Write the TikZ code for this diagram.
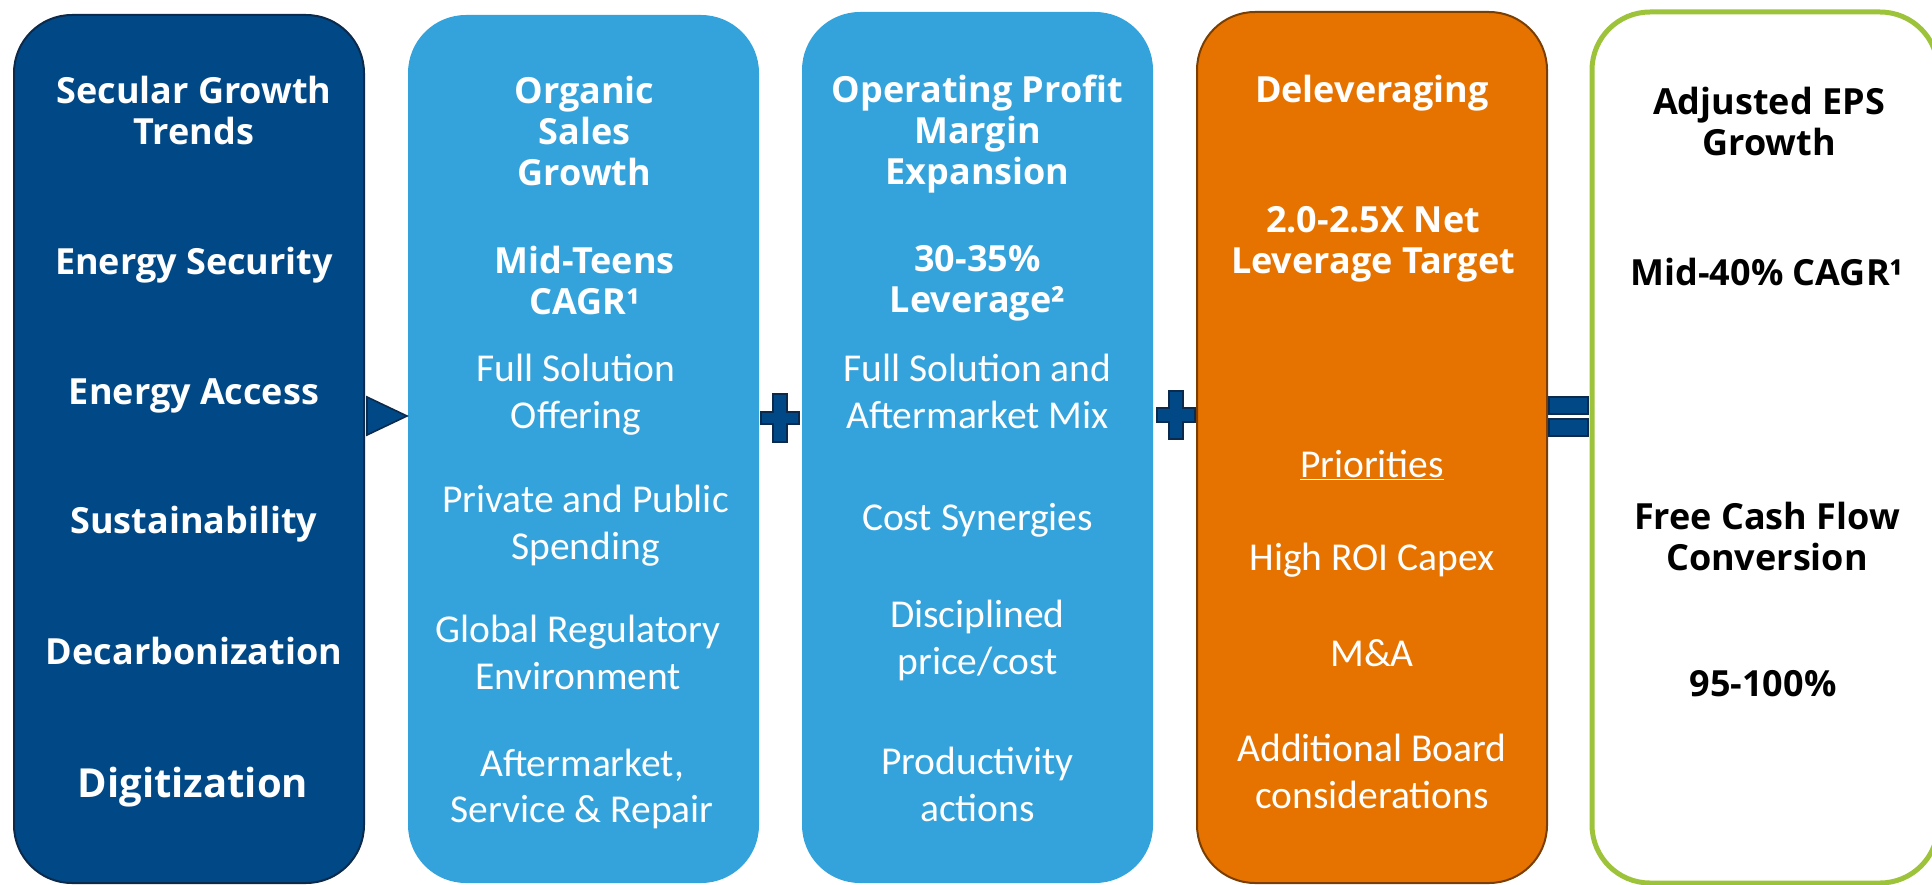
\documentclass[tikz,border=0pt]{standalone}
\usepackage{fontspec}
\setmainfont{Carlito}
\newfontfamily\hdfont{Open Sans}
\definecolor{navy}{HTML}{004986}
\definecolor{navyline}{HTML}{0C2A4C}
\definecolor{sky}{HTML}{34A3DC}
\definecolor{orng}{HTML}{E67300}
\definecolor{orngline}{HTML}{7A3E00}
\definecolor{lime}{HTML}{9DC33B}
\tikzset{
  panel/.style={rounded corners=58pt, minimum width=#1, inner sep=0pt},
  hd/.style={align=center, font=\hdfont\bfseries\fontsize{36}{41}\selectfont, inner sep=0pt},
  bd/.style={align=center, font=\fontsize{39.5}{46.5}\selectfont, inner sep=0pt, text=white},
  op/.style={fill=navy, draw=navyline, line width=1.6pt, line join=miter}
}
\begin{document}
\begin{tikzpicture}[x=1pt,y=-1pt]
\useasboundingbox (0,0) rectangle (1932,885);
\fill[white] (0,0) rectangle (1932,885);
% panels
\node[panel=350pt, minimum height=868pt, fill=navy, draw=navyline, line width=2pt] (p1) at (189,449) {};
\node[panel=351pt, minimum height=868pt, fill=sky] (p2) at (583.5,449) {};
\node[panel=351pt, minimum height=871pt, fill=sky] (p3) at (977.5,447.5) {};
\node[panel=350pt, minimum height=871pt, fill=orng, draw=orngline, line width=2pt] (p4) at (1372,447.5) {};
\node[panel=346pt, minimum height=871pt, fill=white, draw=lime, line width=5pt] (p5) at (1765,447.5) {};
% operators
\draw[op] (367,397) -- (407,416) -- (367,435) -- cycle;
\draw[op] (773,394) -- (787,394) -- (787,412) -- (799,412) -- (799,424) -- (787,424) -- (787,442) -- (773,442) -- (773,424) -- (761,424) -- (761,412) -- (773,412) -- cycle;
\draw[op] (1169,391) -- (1183,391) -- (1183,408) -- (1195,408) -- (1195,422) -- (1183,422) -- (1183,439) -- (1169,439) -- (1169,422) -- (1157,422) -- (1157,408) -- (1169,408) -- cycle;
\draw[op] (1549,397) rectangle (1588,414);
\draw[op] (1549,419) rectangle (1588,436);
% box 1
\node[hd, text=white] (a1) at (194,110.5) {Secular Growth\\Trends};
\node[hd, text=white] (a2) at (194,265.5) {Energy Security};
\node[hd, text=white] (a3) at (194,395.5) {Energy Access};
\node[hd, text=white] (a4) at (194,524.5) {Sustainability};
\node[hd, text=white] (a5) at (194,651) {Decarbonization};
\node[hd, text=white, font=\hdfont\bfseries\fontsize{40}{46}\selectfont] (a6) at (193,787) {Digitization};
% box 2
\node[hd, text=white] (b1) at (584.5,131) {Organic\\Sales\\Growth};
\node[hd, text=white] (b2) at (584.5,280.5) {Mid-Teens\\CAGR¹};
\node[bd] (b3) at (576,394.5) {Full Solution\\Offering};
\node[bd] (b4) at (585.5,525.5) {Private and Public\\Spending};
\node[bd] (b5) at (578,652.5) {Global Regulatory\\Environment};
\node[bd] (b6) at (582,789) {Aftermarket,\\Service \& Repair};
% box 3
\node[hd, text=white] (c1) at (977.5,134.5) {Operating Profit\\Margin\\Expansion};
\node[hd, text=white] (c2) at (977.5,283) {30-35\%\\Leverage²};
\node[bd] (c3) at (977.5,391.5) {Full Solution and\\Aftermarket Mix};
\node[bd] (c4) at (977.5,520) {Cost Synergies};
\node[bd] (c5) at (977.5,640.5) {Disciplined\\price/cost};
\node[bd] (c6) at (977.5,784.5) {Productivity\\actions};
% box 4
\node[hd, text=white] (d1) at (1372,93.5) {Deleveraging};
\node[hd, text=white] (d2) at (1373,244) {2.0-2.5X Net\\Leverage Target};
\node[bd] (d3) at (1372,465) {\underline{Priorities}};
\node[bd] (d4) at (1372,560.5) {High ROI Capex};
\node[bd] (d5) at (1372,653) {M\&A};
\node[bd] (d6) at (1372,771.5) {Additional Board\\considerations};
% box 5
\node[hd, text=black] (e1) at (1769,121.5) {Adjusted EPS\\Growth};
\node[hd, text=black] (e2) at (1767,272) {Mid-40\% CAGR¹};
\node[hd, text=black] (e3) at (1767,536) {Free Cash Flow\\Conversion};
\node[hd, text=black] (e4) at (1763,684) {95-100\%};
\end{tikzpicture}
\end{document}
